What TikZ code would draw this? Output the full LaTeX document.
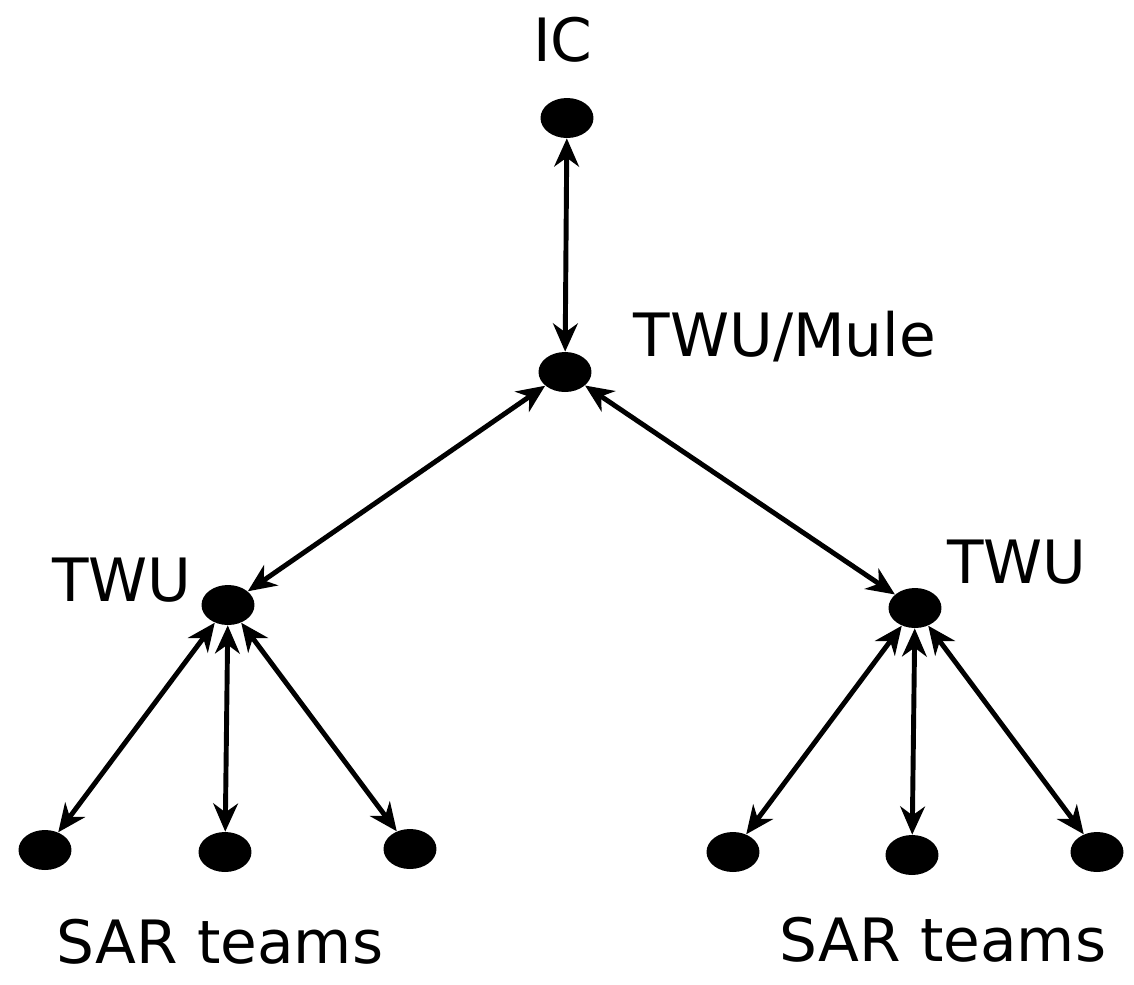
\documentclass[tikz,border=0pt]{standalone}
\usepackage{fontspec}
\setmainfont{DejaVu Sans}
\usetikzlibrary{positioning}
\usetikzlibrary{shapes.geometric}
\usetikzlibrary{arrows.meta}

\begin{document}
\begin{tikzpicture}[x=0.02cm,y=-0.02cm,
link/.style={draw,line width=2.8pt,{Stealth[length=16pt,width=14pt,inset=5pt]}-{Stealth[length=16pt,width=14pt,inset=5pt]}},
lbl/.style={font=\fontsize{34}{40}\selectfont}
]
\useasboundingbox (0,0) rectangle (1134,985);

\tikzstyle{dot} = [fill=black, shape=ellipse, minimum width=1.06cm, minimum height=0.8cm, inner sep=0pt]
\node[dot] (ic) at (567,118) {};
\node[dot] (mule) at (565,372) {};
\node[dot] (twul) at (228,605) {};
\node[dot] (twur) at (915,608) {};
\node[dot] (s1) at (45,850) {};
\node[dot] (s2) at (225,852) {};
\node[dot] (s3) at (410,849) {};
\node[dot] (s4) at (733,852) {};
\node[dot] (s5) at (912,855) {};
\node[dot] (s6) at (1097,852) {};

% links
\draw[link] (ic) -- (mule);
\draw[link] (mule) -- (twul);
\draw[link] (mule) -- (twur);
\foreach \s in {s1,s2,s3} \draw[link] (twul) -- (\s);
\foreach \s in {s4,s5,s6} \draw[link] (twur) -- (\s);

% labels
\node[lbl] (lic) at (563,40) {IC};
\node[lbl] (lmule) at (785,337) {TWU/Mule};
\node[lbl] (ltwul) at (122,580) {TWU};
\node[lbl] (ltwur) at (1017,562) {TWU};
\node[lbl] (lsarl) at (220,942) {SAR teams};
\node[lbl] (lsarr) at (943,940) {SAR teams};
\end{tikzpicture}
\end{document}
